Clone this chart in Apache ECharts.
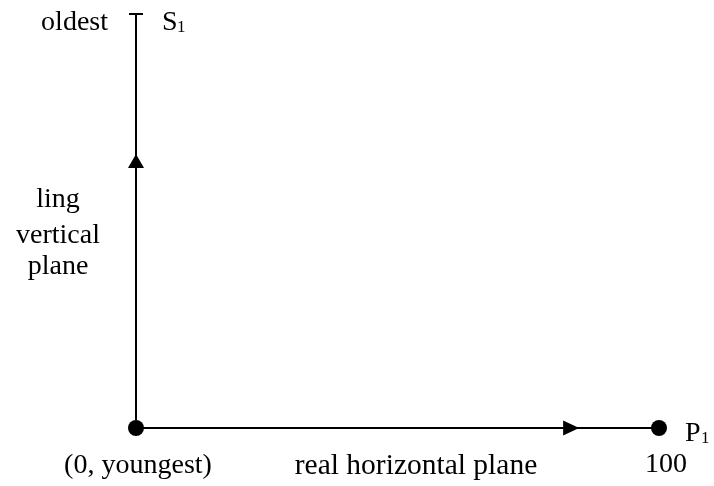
<!DOCTYPE html>
<html>
<head>
<meta charset="utf-8">
<script src="https://cdn.jsdelivr.net/npm/echarts@6/dist/echarts.min.js"></script>
<style>
  html, body { margin: 0; padding: 0; background: #fff; }
  #chart { width: 714px; height: 486px; }
</style>
</head>
<body>
<div id="chart"></div>
<script>
// Plane spanned by the two axes: 0..100 on the horizontal, youngest..oldest on the vertical.
const X_RANGE = [0, 100];
const Y_RANGE = [0, 100];

const verticalAxis = [[0, 0], [0, 100]];
const horizontalAxis = [[0, 0], [100, 0]];
const capTick = [[0, 100]];                    // the "T" at the oldest end
const endpoints = [[0, 0], [100, 0]];          // origin and P1
const upArrow = [[0, 64.5]];
const rightArrow = [[83.2, 0]];

const FONT = "'Liberation Serif', 'Times New Roman', serif";
const INK = "#000";

function label(text, x, y, size, align) {
  return {
    type: "text",
    x, y,
    style: {
      text,
      fill: INK,
      font: `${size}px ${FONT}`,
      align: align || "left",
      verticalAlign: "middle",
    },
  };
}

const lineStyle = { color: INK, width: 2 };
const solid = { color: INK, opacity: 1 };

const option = {
  animation: false,
  grid: { left: 136, right: 55, top: 14, bottom: 58 },
  xAxis: { type: "value", min: X_RANGE[0], max: X_RANGE[1], show: false },
  yAxis: { type: "value", min: Y_RANGE[0], max: Y_RANGE[1], show: false },
  series: [
    { type: "line", data: verticalAxis, showSymbol: false, lineStyle, silent: true, clip: false },
    { type: "line", data: horizontalAxis, showSymbol: false, lineStyle, silent: true, clip: false },
    {
      type: "scatter", data: capTick, symbol: "rect", symbolSize: [14, 2],
      itemStyle: solid, silent: true, clip: false,
    },
    {
      type: "scatter", data: upArrow, symbol: "triangle", symbolSize: [16, 14],
      itemStyle: solid, silent: true, clip: false,
    },
    {
      type: "scatter", data: rightArrow, symbol: "triangle", symbolSize: [15, 16],
      symbolRotate: -90, itemStyle: solid, silent: true, clip: false,
    },
    {
      type: "scatter", data: endpoints, symbol: "circle", symbolSize: 16,
      itemStyle: solid, silent: true, clip: false, z: 5,
    },
  ],
  graphic: [
    label("oldest", 108, 23, 28, "right"),
    label("S", 162, 23, 28),
    label("1", 177, 28, 17),
    label("ling", 58, 200, 28, "center"),
    label("vertical", 58, 236, 28, "center"),
    label("plane", 58, 267, 28, "center"),
    label("(0, youngest)", 138, 466, 28, "center"),
    label("real horizontal plane", 416, 466, 29.5, "center"),
    label("100", 666, 465, 28, "center"),
    label("P", 685, 434, 28),
    label("1", 701, 439, 17),
  ],
};

const chart = echarts.init(document.getElementById("chart"));
chart.setOption(option);
</script>
</body>
</html>
